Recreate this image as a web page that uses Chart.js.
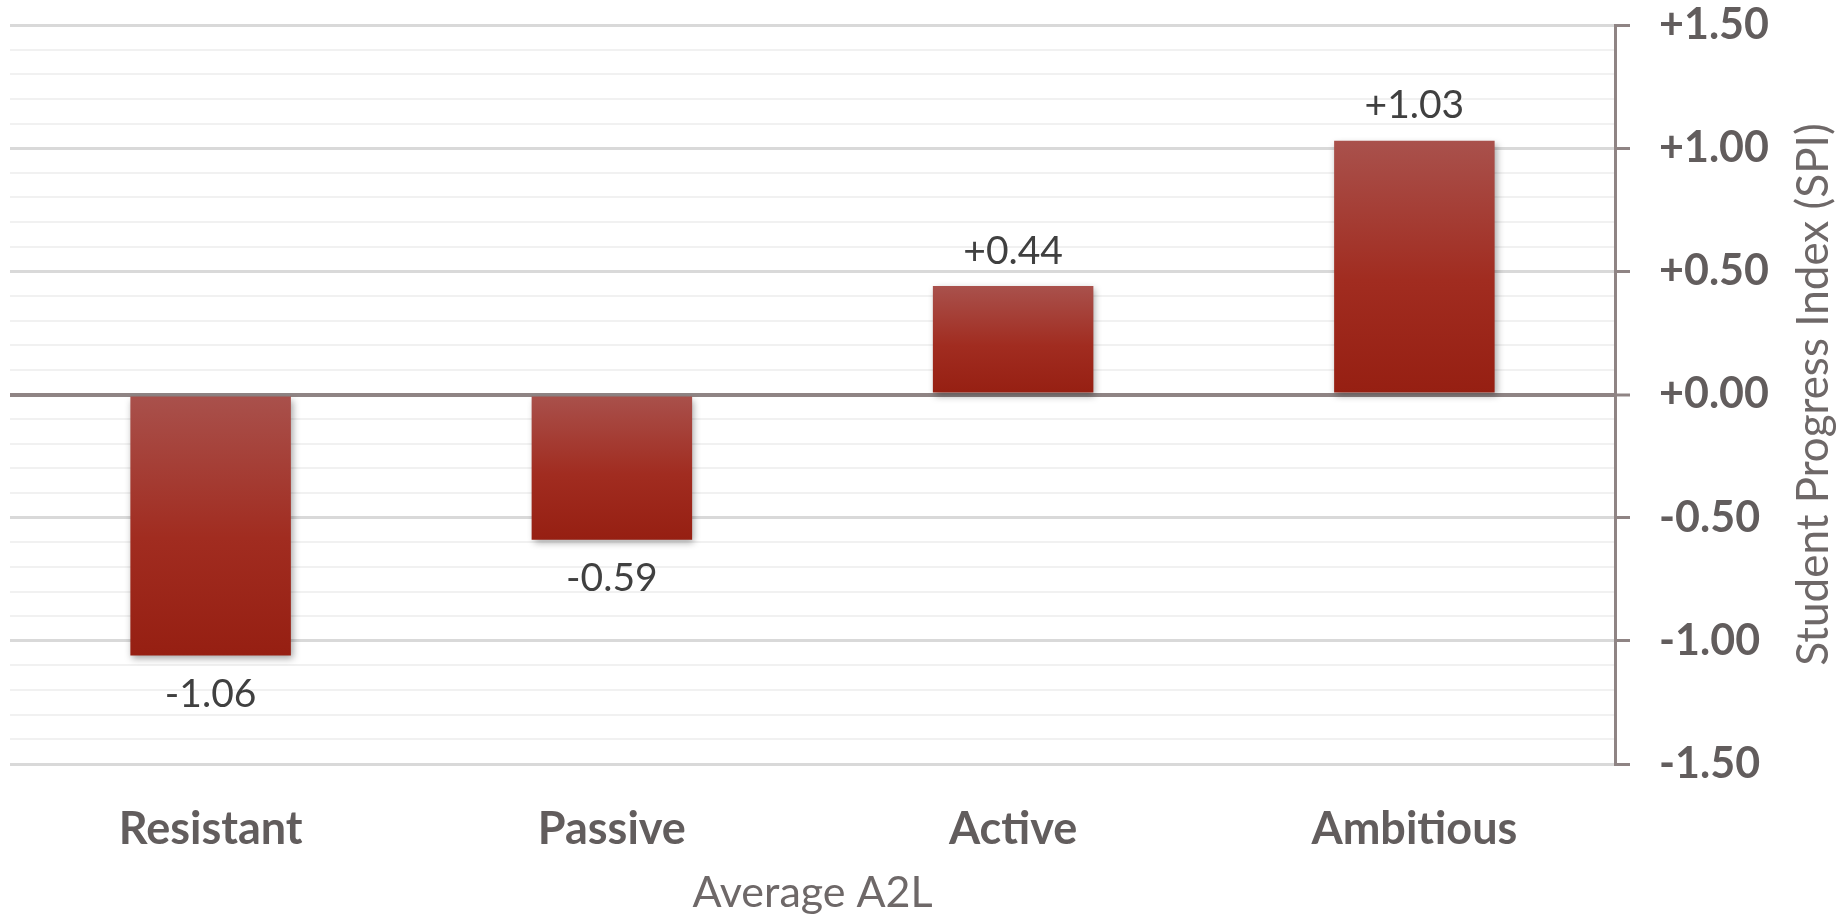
<!DOCTYPE html>
<html>
<head>
<meta charset="utf-8">
<script src="https://cdn.jsdelivr.net/npm/chart.js@4.4.1/dist/chart.umd.min.js"></script>
<style>
  html, body { margin: 0; padding: 0; background: #fff; }
  #wrap { width: 1845px; height: 917px; }
</style>
</head>
<body>
<div id="wrap"><canvas id="c"></canvas></div>
<script>
// 데이터
const categories = ['Resistant', 'Passive', 'Active', 'Ambitious'];
const spiValues = [-1.06, -0.59, 0.44, 1.03];
const yMin = -1.5;
const yMax = 1.5;

const xTitle = 'Average A2L';
const yTitle = 'Student Progress Index (SPI)';

Chart.defaults.font.family = "Lato, 'Open Sans', sans-serif";

function fmt(v) {
  return (v >= 0 ? '+' : '-') + Math.abs(v).toFixed(2);
}
function tenth(v) { return Math.round(v * 10); }

// 막대 그라데이션 (위쪽 밝게, 아래쪽 진하게)
function barGradient(c) {
  const chart = c.chart;
  const y = chart.scales && chart.scales.y;
  if (!y || c.raw === undefined) return '#9c2a1c';
  const top = y.getPixelForValue(Math.max(c.raw, 0));
  const bot = y.getPixelForValue(Math.min(c.raw, 0));
  if (!isFinite(top) || !isFinite(bot) || top === bot) return '#9c2a1c';
  const g = chart.ctx.createLinearGradient(0, top, 0, bot);
  g.addColorStop(0, '#a9514c');
  g.addColorStop(0.55, '#a12c20');
  g.addColorStop(1, '#961f12');
  return g;
}

// 그림자
const shadowPlugin = {
  id: 'shadow',
  beforeDatasetsDraw(chart) {
    const ctx = chart.ctx;
    ctx.save();
    ctx.shadowColor = 'rgba(0,0,0,0.35)';
    ctx.shadowBlur = 7;
    ctx.shadowOffsetX = 2;
    ctx.shadowOffsetY = 3;
  },
  afterDatasetsDraw(chart) {
    chart.ctx.restore();
  }
};

// 값 라벨 + 오른쪽 축 제목
const labelPlugin = {
  id: 'labels',
  afterDatasetsDraw(chart) {
    const ctx = chart.ctx;
    const meta = chart.getDatasetMeta(0);
    ctx.save();
    ctx.font = "39px Lato, 'Open Sans', sans-serif";
    ctx.fillStyle = '#404040';
    ctx.textAlign = 'center';
    ctx.textBaseline = 'middle';
    meta.data.forEach((bar, i) => {
      const v = spiValues[i];
      const ty = v >= 0 ? bar.y - 35 : bar.y + 39;
      ctx.fillText(fmt(v), bar.x, ty);
    });
    ctx.restore();
  },
  afterDraw(chart) {
    const ctx = chart.ctx;
    const area = chart.chartArea;
    ctx.save();
    ctx.translate(1814, (area.top + area.bottom) / 2);
    ctx.rotate(-Math.PI / 2);
    ctx.font = "44px Lato, 'Open Sans', sans-serif";
    ctx.fillStyle = '#6e6868';
    ctx.textAlign = 'center';
    ctx.textBaseline = 'middle';
    ctx.fillText(yTitle, 0, 0);
    ctx.restore();
  }
};

new Chart(document.getElementById('c'), {
  type: 'bar',
  data: {
    labels: categories,
    datasets: [{
      data: spiValues,
      backgroundColor: barGradient,
      borderWidth: 0,
      barPercentage: 0.4,
      categoryPercentage: 1.0
    }]
  },
  options: {
    responsive: true,
    maintainAspectRatio: false,
    animation: false,
    layout: { padding: { left: 10, top: 25, right: 0, bottom: 0 } },
    plugins: {
      legend: { display: false },
      tooltip: { enabled: false }
    },
    scales: {
      x: {
        grid: { display: false, drawTicks: false },
        border: { display: false },
        ticks: {
          color: '#625d5d',
          padding: 38,
          font: { size: 45, weight: 'bold' }
        },
        title: {
          display: true,
          text: xTitle,
          color: '#6e6868',
          font: { size: 43 },
          padding: { top: 0, bottom: -2 }
        },
        afterFit(s) { s.height = 153; }
      },
      y: {
        position: 'right',
        min: yMin,
        max: yMax,
        ticks: {
          stepSize: 0.1,
          autoSkip: false,
          color: '#625d5d',
          padding: 29,
          font: { size: 43, weight: 'bold' },
          callback: (v) => tenth(v) % 5 === 0 ? fmt(v) : ''
        },
        grid: {
          tickLength: 15,
          color: (c) => {
            const t = tenth(c.tick.value);
            if (t === 0) return '#8f8484';
            return t % 5 === 0 ? '#d9d9d9' : '#f1f1f1';
          },
          lineWidth: (c) => tenth(c.tick.value) === 0 ? 4 : (tenth(c.tick.value) % 5 === 0 ? 3 : 2),
          tickColor: (c) => tenth(c.tick.value) % 5 === 0 ? '#8f8484' : 'rgba(0,0,0,0)',
          tickWidth: 3
        },
        border: { display: true, color: '#8f8484', width: 3 },
        afterFit(s) {
          s.width = 230;
          s.paddingTop = 0;
          s.paddingBottom = 0;
        }
      }
    }
  },
  plugins: [shadowPlugin, labelPlugin]
});
</script>
</body>
</html>
